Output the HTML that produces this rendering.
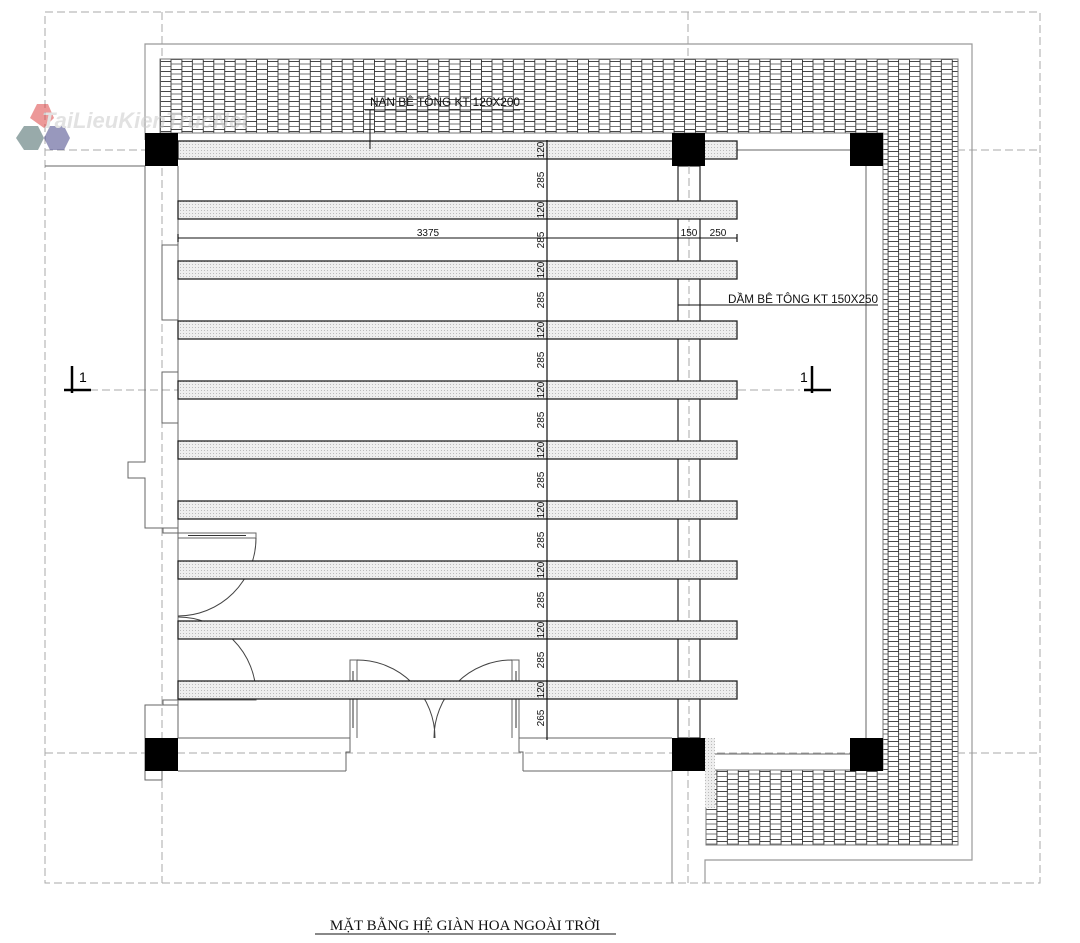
<!DOCTYPE html>
<html><head><meta charset="utf-8"><style>
html,body{margin:0;padding:0;background:#fff;}
svg{display:block;}
</style></head><body>
<svg width="1080" height="943" viewBox="0 0 1080 943" xmlns="http://www.w3.org/2000/svg">
<defs>
<pattern id="brick" x="160" y="59" width="21.4" height="10" patternUnits="userSpaceOnUse">
<rect width="21.4" height="10" fill="#fff"/>
<line x1="0.5" y1="0" x2="0.5" y2="10" stroke="#333" stroke-width="0.9"/>
<line x1="11" y1="0" x2="11" y2="10" stroke="#333" stroke-width="0.9"/>
<line x1="0" y1="2.5" x2="11" y2="2.5" stroke="#333" stroke-width="0.9"/>
<line x1="0" y1="7.5" x2="11" y2="7.5" stroke="#555" stroke-width="0.8"/>
<line x1="11" y1="0.5" x2="21.4" y2="0.5" stroke="#333" stroke-width="0.9"/>
<line x1="11" y1="5" x2="21.4" y2="5" stroke="#555" stroke-width="0.8"/>
</pattern>
<pattern id="dots" width="3" height="3" patternUnits="userSpaceOnUse">
<rect width="3" height="3" fill="#eee"/>
<rect x="0" y="0" width="1" height="1" fill="#bbb"/>
</pattern>
</defs>

<g stroke="#aaa" stroke-width="1" stroke-dasharray="8,4" fill="none">
<rect x="45" y="12" width="995" height="871"/>
<line x1="162" y1="12" x2="162" y2="883"/>
<line x1="688" y1="12" x2="688" y2="883"/>
<line x1="45" y1="150" x2="1040" y2="150"/>
<line x1="90" y1="390" x2="800" y2="390"/>
<line x1="45" y1="753" x2="1040" y2="753"/>
</g>

<g stroke="#999" stroke-width="1.2" fill="none">
<polyline points="145,140 145,44 972,44 972,860 705,860 705,883"/>
<line x1="672" y1="771" x2="672" y2="883"/>
</g>

<path d="M160,59 H958 V845 H706 V770 H883 V133 H160 Z" fill="url(#brick)" stroke="#777" stroke-width="1"/>
<rect x="705" y="738" width="10" height="70" fill="url(#dots)"/>

<g stroke="#666" stroke-width="1" fill="none">
<polyline points="145,166 145,462 128,462 128,478 145,478 145,528 178,528"/>
<line x1="178" y1="166" x2="178" y2="738"/>
<rect x="162" y="245" width="16" height="75"/>
<rect x="162" y="372" width="16" height="51"/>
<polyline points="45,166 145,166"/>
<rect x="163" y="528" width="15" height="5"/>
<rect x="178" y="533" width="78" height="5"/>
<line x1="188" y1="535.5" x2="246" y2="535.5" stroke="#333"/>
<rect x="178" y="695" width="78" height="5"/>
<line x1="188" y1="697.5" x2="246" y2="697.5" stroke="#333"/>
<rect x="163" y="700" width="15" height="5"/>
<polyline points="178,705 145,705 145,780 162,780"/>
<line x1="162" y1="771" x2="162" y2="780"/>
<path d="M256,538 A78,78 0 0 1 178,616" stroke="#444"/>
<path d="M256,695 A78,78 0 0 0 178,617" stroke="#444"/>
<line x1="178" y1="738" x2="350" y2="738"/>
<line x1="178" y1="771" x2="346" y2="771"/>
<polyline points="346,771 346,752 350,752 350,660 357,660 357,738"/>
<line x1="353" y1="671" x2="353" y2="728" stroke="#333"/>
<polyline points="523,771 523,752 519,752 519,660 512,660 512,738"/>
<line x1="516" y1="671" x2="516" y2="728" stroke="#333"/>
<line x1="523" y1="771" x2="672" y2="771"/>
<line x1="519" y1="738" x2="672" y2="738"/>
<path d="M357,660 A78,78 0 0 1 435,738" stroke="#444"/>
<path d="M512,660 A78,78 0 0 0 434,738" stroke="#444"/>
<line x1="866" y1="166" x2="866" y2="738"/>
<line x1="715" y1="754" x2="850" y2="754"/>
</g>

<rect x="678" y="166" width="22" height="572" fill="#fff" stroke="#222" stroke-width="1.2"/>
<line x1="689" y1="166" x2="689" y2="738" stroke="#aaa" stroke-dasharray="8,4"/>
<line x1="705" y1="150" x2="850" y2="150" stroke="#666"/>

<g fill="url(#dots)" stroke="#222" stroke-width="1.3">
<rect x="178" y="141" width="559" height="18"/>
<rect x="178" y="201" width="559" height="18"/>
<rect x="178" y="261" width="559" height="18"/>
<rect x="178" y="321" width="559" height="18"/>
<rect x="178" y="381" width="559" height="18"/>
<rect x="178" y="441" width="559" height="18"/>
<rect x="178" y="501" width="559" height="18"/>
<rect x="178" y="561" width="559" height="18"/>
<rect x="178" y="621" width="559" height="18"/>
<rect x="178" y="681" width="559" height="18"/>
</g>

<g fill="#000">
<rect x="145" y="133" width="33" height="33"/>
<rect x="672" y="133" width="33" height="33"/>
<rect x="850" y="133" width="33" height="33"/>
<rect x="145" y="738" width="33" height="33"/>
<rect x="672" y="738" width="33" height="33"/>
<rect x="850" y="738" width="33" height="33"/>
</g>

<g stroke="#111" stroke-width="1.2">
<line x1="547" y1="140" x2="547" y2="740"/>
<line x1="178" y1="238" x2="737" y2="238" stroke-width="1"/>
<line x1="178" y1="234" x2="178" y2="242"/>
<line x1="737" y1="234" x2="737" y2="242"/>
<line x1="370" y1="110" x2="370" y2="149" stroke-width="1"/>
<line x1="365" y1="110" x2="520" y2="110" stroke-width="0.8"/>
<line x1="678" y1="305" x2="878" y2="305" stroke-width="1"/>
</g>
<g font-family="Liberation Sans, sans-serif" font-size="10" fill="#111" text-anchor="middle">
<text transform="translate(544,150) rotate(-90)">120</text>
<text transform="translate(544,180) rotate(-90)">285</text>
<text transform="translate(544,210) rotate(-90)">120</text>
<text transform="translate(544,240) rotate(-90)">285</text>
<text transform="translate(544,270) rotate(-90)">120</text>
<text transform="translate(544,300) rotate(-90)">285</text>
<text transform="translate(544,330) rotate(-90)">120</text>
<text transform="translate(544,360) rotate(-90)">285</text>
<text transform="translate(544,390) rotate(-90)">120</text>
<text transform="translate(544,420) rotate(-90)">285</text>
<text transform="translate(544,450) rotate(-90)">120</text>
<text transform="translate(544,480) rotate(-90)">285</text>
<text transform="translate(544,510) rotate(-90)">120</text>
<text transform="translate(544,540) rotate(-90)">285</text>
<text transform="translate(544,570) rotate(-90)">120</text>
<text transform="translate(544,600) rotate(-90)">285</text>
<text transform="translate(544,630) rotate(-90)">120</text>
<text transform="translate(544,660) rotate(-90)">285</text>
<text transform="translate(544,690) rotate(-90)">120</text>
<text transform="translate(544,718) rotate(-90)">265</text>
<text x="428" y="236">3375</text>
<text x="689" y="236">150</text>
<text x="718" y="236">250</text>
</g>
<g font-family="Liberation Sans, sans-serif" font-size="12" fill="#111">
<text x="370" y="106" textLength="150" lengthAdjust="spacingAndGlyphs">NAN BÊ TÔNG KT 120X200</text>
<text x="728" y="303" textLength="150" lengthAdjust="spacingAndGlyphs">DẦM BÊ TÔNG KT 150X250</text>
</g>

<g stroke="#000" stroke-width="2.5">
<line x1="72" y1="366" x2="72" y2="393"/>
<line x1="64" y1="390" x2="91" y2="390"/>
<line x1="812" y1="366" x2="812" y2="393"/>
<line x1="804" y1="390" x2="831" y2="390"/>
</g>
<g font-family="Liberation Sans, sans-serif" font-size="14" fill="#000">
<text x="79" y="382">1</text>
<text x="800" y="382">1</text>
</g>

<g opacity="0.55">
<polygon points="37,104 48,104 54,118 44,128 30,118" fill="#d44"/>
<polygon points="16,138 24,126 38,126 44,138 38,150 24,150" fill="#466"/>
<polygon points="44,138 50,126 64,126 70,138 64,150 50,150" fill="#448"/>
<text x="42" y="128" font-family="Liberation Sans, sans-serif" font-weight="bold" font-style="italic" font-size="22" fill="#ccc">TaiLieuKienTrucNet</text>
</g>

<text x="465" y="930" text-anchor="middle" font-family="Liberation Serif, serif" font-size="15" fill="#111">MẶT BẰNG HỆ GIÀN HOA NGOÀI TRỜI</text>
<line x1="315" y1="934" x2="616" y2="934" stroke="#111" stroke-width="1"/>
</svg>
</body></html>
